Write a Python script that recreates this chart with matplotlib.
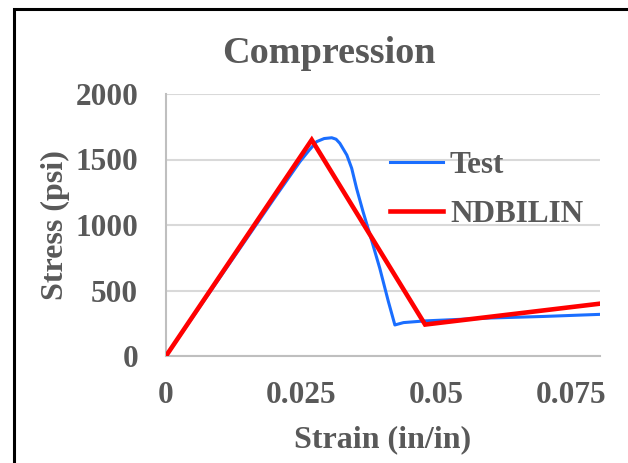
import matplotlib
matplotlib.use("Agg")
import matplotlib.pyplot as plt
from matplotlib.patches import Rectangle

# Measured test curve (strain in/in, stress psi)
test_strain = [0.0, 0.005, 0.010, 0.015, 0.020, 0.0248, 0.0265, 0.0279, 0.0293,
               0.0307, 0.0315, 0.0322, 0.0335, 0.0344, 0.0353, 0.0365, 0.0378,
               0.0396, 0.0412, 0.0424, 0.0440, 0.0480, 0.0600, 0.0700, 0.0805]
test_stress = [0, 300, 600, 900, 1200, 1483, 1570, 1636, 1660,
               1666, 1655, 1624, 1534, 1433, 1280, 1102, 924,
               670, 415, 237, 255, 268, 290, 302, 318]

# NDBILIN model curve
model_strain = [0.0, 0.027, 0.048, 0.0805]
model_stress = [0, 1650, 240, 400]

x_ticks = [0, 0.025, 0.05, 0.075]
x_tick_labels = ["0", "0.025", "0.05", "0.075"]
y_ticks = [0, 500, 1000, 1500, 2000]

text_color = "#595959"
serif = ["Liberation Serif", "DejaVu Serif"]

fig = plt.figure(figsize=(6.28, 4.63), dpi=100)
ax = fig.add_axes([166 / 628, 1 - 356 / 463, (600 - 166) / 628, (356 - 94) / 463])

ax.plot(test_strain, test_stress, color="#1A6EFF", lw=2.2, label="Test",
        solid_joinstyle="round", zorder=3)
ax.plot(model_strain, model_stress, color="#FF0000", lw=3.3, label="NDBILIN",
        solid_joinstyle="miter", zorder=4)

ax.set_xlim(0, 0.0804)
ax.set_ylim(0, 2000)
ax.set_xticks(x_ticks)
ax.set_xticklabels(x_tick_labels)
ax.set_yticks(y_ticks)

ax.grid(axis="y", color="#D9D9D9", lw=1.5)
ax.set_axisbelow(True)
for side in ["top", "right"]:
    ax.spines[side].set_visible(False)
for side in ["left", "bottom"]:
    ax.spines[side].set_color("#BFBFBF")
    ax.spines[side].set_linewidth(1.5)
ax.tick_params(axis="x", length=0, pad=18)
ax.tick_params(axis="y", length=0, pad=20)
for lbl in ax.get_xticklabels() + ax.get_yticklabels():
    lbl.set_fontfamily(serif)
    lbl.set_fontweight("bold")
    lbl.set_fontsize(22.5)
    lbl.set_color(text_color)

ax.set_xlabel("Strain (in/in)", fontfamily=serif, fontweight="bold",
              fontsize=23, color=text_color, labelpad=11)
ax.set_ylabel("Stress (psi)", fontfamily=serif, fontweight="bold",
              fontsize=23, color=text_color, labelpad=4)
fig.text(329 / 628, 1 - 63 / 463, "Compression", ha="center", va="baseline",
         fontfamily=serif, fontweight="bold", fontsize=27.5, color=text_color)

leg = ax.legend(loc="center left", bbox_to_anchor=(224 / 434, (356 - 190) / 262),
                frameon=False,
                prop={"family": serif, "weight": "bold", "size": 22.5},
                handlelength=1.7, handletextpad=0.22, labelspacing=0.62,
                borderaxespad=0, borderpad=0)
for t in leg.get_texts():
    t.set_color(text_color)

# Outer frame of the chart area
fig.patches.append(Rectangle((14 / 628, -0.05), 1.2, 1 - 8.5 / 463 + 0.05,
                             transform=fig.transFigure, fill=False,
                             edgecolor="black", lw=2.2, clip_on=False))

fig.savefig("out.png", dpi=100)
